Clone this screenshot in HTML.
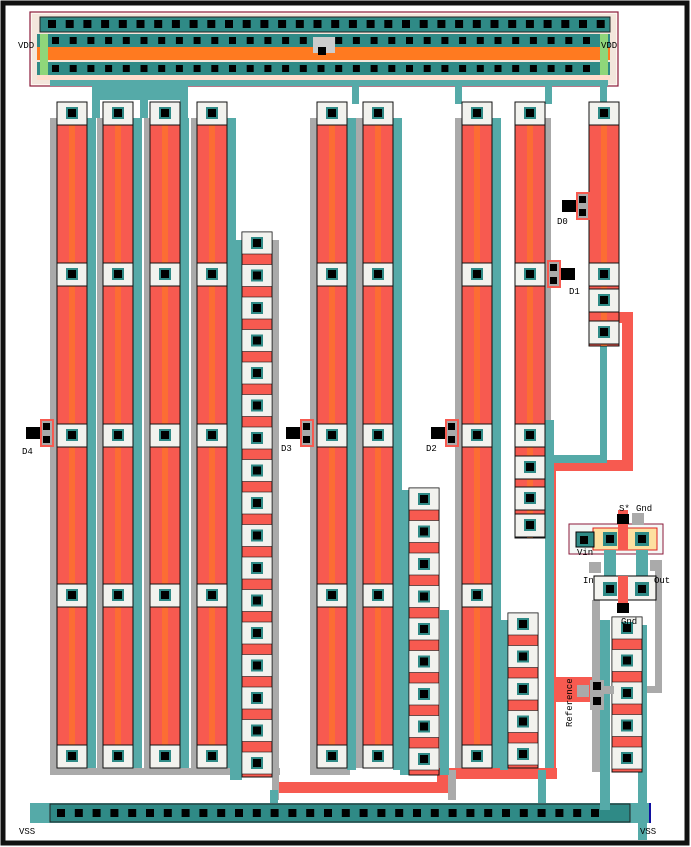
<!DOCTYPE html>
<html><head><meta charset="utf-8"><style>
body{margin:0;background:#fff}
svg{display:block}
text{font-family:"Liberation Mono",monospace;font-size:9px;fill:#000}
</style></head><body>
<svg id="s" width="691" height="847" viewBox="0 0 691 847" xmlns="http://www.w3.org/2000/svg">
<rect x="0" y="0" width="691" height="847" fill="#fff"/>
<rect x="3" y="3" width="684" height="840" fill="none" stroke="#111" stroke-width="5"/>
<g id="g"></g>
<text x="18" y="48">VDD</text>
<text x="601" y="48">VDD</text>
<text x="19" y="834">VSS</text>
<text x="640" y="834">VSS</text>
<text x="22" y="454">D4</text>
<text x="281" y="451">D3</text>
<text x="426" y="451">D2</text>
<text x="557" y="224">D0</text>
<text x="569" y="294">D1</text>
<text x="619" y="511">S*</text>
<text x="636" y="511">Gnd</text>
<text x="577" y="555">Vin</text>
<text x="583" y="583">In</text>
<text x="654" y="583">Out</text>
<text x="621" y="624">Gnd</text>
<text transform="translate(572,727) rotate(-90)">Reference</text>
</svg>
<script>
const g=document.getElementById('g');let h='';
const R=(x,y,w,hh,f,extra)=>{h+=`<rect x="${x}" y="${y}" width="${w}" height="${hh}" fill="${f}" ${extra||''}/>`};
const T='#55aaa8',G='#aaaaaa',RD='#f75a50',OR='#ff7a20';
// top VDD frame
R(30,12,588,74,'#fdf6f0','stroke="#8b1a3a" stroke-width="1.2"');
R(32,14,584,70,'#f3e6dc');
R(40,17,570,15,'#2f8a86','stroke="#222" stroke-width="1"');
R(37,34,573,13,'#2f8a86');
R(37,47,573,13,OR);
R(37,62,573,13,'#2f8a86');
R(37,75,573,5,'#ffdccc');
R(50,80,558,6,T);
for(let x=48;x<600;x+=17.7){R(x,20,8,8,'#000');}
for(let x=52;x<600;x+=17.7){R(x,37,7,7,'#000');R(x,65,7,7,'#000');}
R(40,34,8,41,'#8fd67a');R(600,34,8,41,'#8fd67a');
R(313,37,22,16,'#cccccc');R(318,47,8,8,'#000');
// teal connectors from VDD
R(92,86,96,14,T);R(92,100,8,18,T);R(140,100,8,18,T);R(180,100,8,18,T);
R(352,86,7,18,T);R(455,86,7,18,T);R(545,86,7,18,T);R(600,86,7,18,T);
// VSS bar
R(30,803,620,20,T);R(50,804,580,18,'#2f8a86','stroke="#222" stroke-width="1"');
for(let x=57;x<605;x+=17.8){R(x,809,8,8,'#000');}
R(649,803,2,20,'#1010a0');
// red wires
R(272,782,176,11,RD);R(437,768,11,25,RD);R(437,768,120,11,RD);
R(545,460,11,318,RD);R(545,460,87,11,RD);R(622,312,11,159,RD);R(605,312,28,11,RD);
R(545,677,60,25,RD);
// gray wires
R(50,118,7,657,G);R(50,768,230,7,G);R(97,118,6,650,G);R(144,118,6,650,G);R(191,118,6,650,G);
R(272,240,7,560,G);R(310,118,7,657,G);R(310,768,40,7,G);R(356,118,7,650,G);R(455,118,7,650,G);
R(545,118,6,430,G);R(448,770,8,30,G);R(538,770,8,30,G);
R(592,600,8,172,G);R(655,560,7,132,G);R(640,686,22,7,G);
// teal strips right of columns
[[87,118,768],[133,118,768],[180,118,768],[227,118,768],[347,118,770],[393,118,770],[492,118,768],[545,420,768],[440,610,775]].forEach(a=>R(a[0],a[1],9,a[2]-a[1],T));
R(230,240,12,540,T);R(400,490,9,285,T);R(500,620,8,150,T);R(638,625,9,215,T);R(600,620,10,190,T);R(538,770,8,33,T);R(270,790,8,13,T);
R(600,345,7,110,T);R(545,455,62,8,T);R(600,200,7,10,T);
// big columns
function col(x,y0,y1,cuts){
 R(x,y0,30,y1-y0,RD,'stroke="#111" stroke-width="1"');
 R(x+12,y0,6,y1-y0,OR,'opacity="0.6"');
 cuts.forEach(c=>{R(x,c,30,23,'#f2f2ee','stroke="#111" stroke-width="1"');R(x+9,c+5,12,12,'#2f8a86');R(x+11,c+7,8,8,'#000');});
}
const cs=[102,263,424,584,745];
[57,103,150,197].forEach(x=>col(x,102,768,cs));
[317,363].forEach(x=>col(x,102,768,cs));
col(462,102,768,cs);col(515,102,538,[102,263,424,456,487,514]);
col(589,102,346,[102,263,289,321]);
// small stacked columns
function stack(x,y0,y1){
 R(x,y0,30,y1-y0,RD,'stroke="#111" stroke-width="1"');
 for(let y=y0;y+20<=y1;y+=32.5){R(x,y,30,22,'#f2f2ee','stroke="#111" stroke-width="0.6"');R(x+9,y+5,12,12,'#2f8a86');R(x+11,y+7,8,8,'#000');}
}
stack(242,232,777);stack(409,488,775);stack(508,613,768);stack(612,617,772);
// switches D
function sw(x,y,left){R(x,y,14,28,RD);R(x+2,y+2,10,24,G);R(x+3,y+4,7,7,'#000');R(x+3,y+17,7,7,'#000');
 if(left)R(x-14,y+8,14,12,'#000');else R(x+14,y+8,14,12,'#000');}
sw(40,419,true);sw(300,419,true);sw(445,419,true);sw(576,192,true);sw(547,260,false);
// comparator block
R(569,524,94,30,'#f4f8f6','stroke="#8b1a3a" stroke-width="1"');
R(593,528,64,22,'#fde0a0','stroke="#e02020" stroke-width="1"');
R(576,532,18,15,'#2f8a86','stroke="#000" stroke-width="1"');R(580,536,8,8,'#000');
R(603,532,14,14,'#2f8a86');R(606,535,8,8,'#000');R(635,532,14,14,'#2f8a86');R(638,535,8,8,'#000');
R(618,510,10,40,RD);R(617,514,12,10,'#000');R(632,513,12,12,G);
R(604,550,12,30,T);R(636,550,12,30,T);
R(589,562,12,11,G);R(650,560,12,11,G);
R(594,576,62,24,'#f4f4f0','stroke="#000" stroke-width="1"');
R(618,576,10,36,RD);R(603,582,14,14,'#2f8a86');R(606,585,8,8,'#000');R(635,582,14,14,'#2f8a86');R(638,585,8,8,'#000');
R(617,603,12,10,'#000');
// reference switch
R(577,685,12,12,G);R(590,680,14,30,G);R(593,682,8,8,'#000');R(593,697,8,8,'#000');R(604,686,10,8,G);
g.innerHTML=h;
</script>
</body></html>
